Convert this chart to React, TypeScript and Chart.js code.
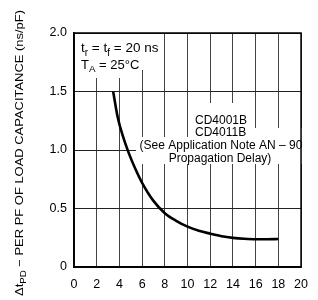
import React, { useEffect, useRef } from 'react';
import { Chart, registerables } from 'chart.js';

Chart.register(...registerables);

const loadCapacitance = [3.45, 3.85, 4.3, 4.8, 5.4, 6, 7, 8, 9, 10, 11, 12, 13, 14, 15, 16, 17, 18];
const delayPerPf = [1.5, 1.28, 1.12, 0.98, 0.84, 0.72, 0.565, 0.46, 0.395, 0.345, 0.31, 0.285, 0.263, 0.249, 0.241, 0.237, 0.237, 0.239];
const yTickLabels: Record<string, string> = { '0': '0', '0.5': '0.5', '1': '1.0', '1.5': '1.5', '2': '2.0' };
const yTitleMain = 'Δt';
const yTitleSub = 'PD';
const yTitleRest = ' − PER PF OF LOAD CAPACITANCE (ns/pF)';
const noteLines = ['CD4001B', 'CD4011B', '(See Application Note AN – 90', 'Propagation Delay)'];

const FONT = '"Liberation Sans", Arial, sans-serif';

function drawSegs(ctx: CanvasRenderingContext2D, x: number, y: number, segs: [string, boolean][], size: number) {
  let cx = x;
  for (const [t, sub] of segs) {
    ctx.font = `${sub ? size * 0.75 : size}px ${FONT}`;
    ctx.fillText(t, cx, sub ? y + size * 0.3 : y);
    cx += ctx.measureText(t).width;
  }
  return cx;
}

const decorPlugin = {
  id: 'decor',
  beforeDatasetsDraw(chart: any) {
    const ctx = chart.ctx as CanvasRenderingContext2D;
    ctx.save();
    ctx.fillStyle = '#fff';
    const boxes = [
      [75, 34, 87, 36],
      [75, 55, 65, 23],
      [193, 103, 59, 34],
      [252, 128, 53, 9],
      [136, 137, 169, 27],
    ];
    for (const [x, y, w, h] of boxes) ctx.fillRect(x, y, w, h);
    ctx.restore();
  },
  afterDatasetsDraw(chart: any) {
    const ctx = chart.ctx as CanvasRenderingContext2D;
    const a = chart.chartArea;
    ctx.save();
    ctx.strokeStyle = '#000';
    ctx.lineWidth = 1.5;
    ctx.strokeRect(a.left, a.top, a.right - a.left, a.bottom - a.top);
    ctx.fillStyle = '#000';
    ctx.textBaseline = 'alphabetic';
    ctx.textAlign = 'left';
    drawSegs(ctx, 81, 51.5, [['t', false], ['r', true], [' = t', false], ['f', true], [' = 20 ns', false]], 13.5);
    drawSegs(ctx, 81, 68.5, [['T', false], ['A', true], [' = 25°C', false]], 13);
    ctx.font = `12px ${FONT}`;
    ctx.fillText(noteLines[0], 195, 124);
    ctx.fillText(noteLines[1], 195, 136);
    ctx.textAlign = 'center';
    ctx.fillText(noteLines[2], 221, 149);
    ctx.fillText(noteLines[3], 220, 162);
    // y-axis title
    ctx.translate(23, 296);
    ctx.rotate(-Math.PI / 2);
    ctx.textAlign = 'left';
    const size = 11.5;
    ctx.font = `${size}px ${FONT}`;
    const w1 = ctx.measureText(yTitleMain).width;
    const w3 = ctx.measureText(yTitleRest).width;
    ctx.font = `${size * 0.75}px ${FONT}`;
    const w2 = ctx.measureText(yTitleSub).width;
    const total = w1 + w2 + w3;
    ctx.scale(286 / total, 1);
    drawSegs(ctx, 0, 0, [[yTitleMain, false], [yTitleSub, true], [yTitleRest, false]], size);
    ctx.restore();
  },
};

export default function App() {
  const ref = useRef<HTMLCanvasElement>(null);
  useEffect(() => {
    const chart = new Chart(ref.current!, {
      type: 'line',
      data: {
        datasets: [
          {
            data: loadCapacitance.map((x, i) => ({ x, y: delayPerPf[i] })),
            borderColor: '#000',
            borderWidth: 2.6,
            pointRadius: 0,
            cubicInterpolationMode: 'monotone',
            fill: false,
          },
        ],
      },
      options: {
        animation: false,
        responsive: false,
        events: [],
        layout: { padding: { top: 33, right: 11, left: 0, bottom: 0 } },
        plugins: { legend: { display: false }, tooltip: { enabled: false } },
        scales: {
          x: {
            type: 'linear',
            min: 0,
            max: 20,
            afterFit: (s: any) => { s.height = 33; },
            ticks: { stepSize: 2, color: '#000', padding: 10, maxRotation: 0, font: { family: FONT, size: 12.5 } },
            grid: { color: '#444', lineWidth: 1, drawTicks: false },
            border: { color: '#000', width: 1.5 },
          },
          y: {
            type: 'linear',
            min: 0,
            max: 2,
            afterFit: (s: any) => { s.width = 74; },
            ticks: {
              stepSize: 0.5,
              color: '#000',
              padding: 7,
              font: { family: FONT, size: 12.5 },
              callback: (v: any) => yTickLabels[String(v)] ?? String(v),
            },
            grid: { color: '#222', lineWidth: 1, drawTicks: false },
            border: { color: '#000', width: 1.5 },
          },
        },
      },
      plugins: [decorPlugin],
    } as any);
    return () => chart.destroy();
  }, []);
  return (
    <div style={{ position: 'fixed', left: 0, top: 0, width: 318, height: 300, background: '#fff' }}>
      <canvas ref={ref} width={318} height={300} style={{ width: 318, height: 300 }} />
    </div>
  );
}
